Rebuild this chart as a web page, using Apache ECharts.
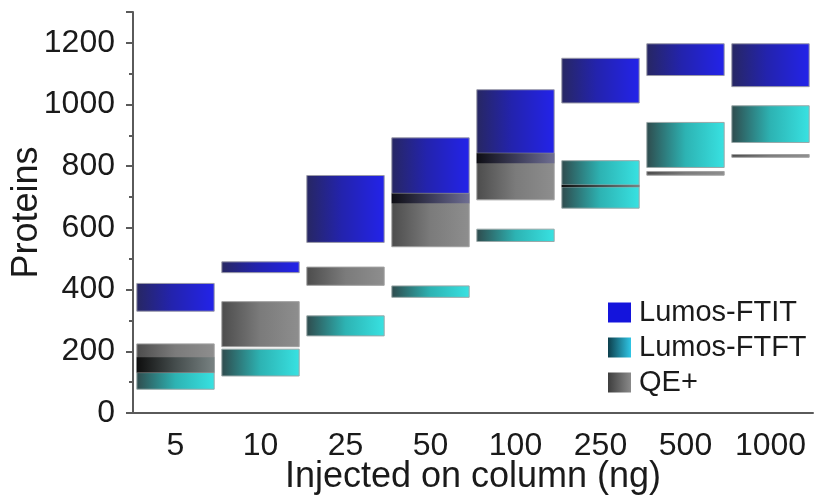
<!DOCTYPE html>
<html>
<head>
<meta charset="utf-8">
<script src="https://cdn.jsdelivr.net/npm/echarts@6/dist/echarts.min.js"></script>
<style>html,body{margin:0;padding:0;background:#fff}#c{width:822px;height:495px}</style>
</head>
<body>
<div id="c"></div>
<script>
// Categories (ng injected on column)
const categories = ['5', '10', '25', '50', '100', '250', '500', '1000'];
// Protein ranges [low, high] per category
const ftitLow  = [330, 455, 553, 680, 810, 1005, 1094, 1058];
const ftitHigh = [420, 490, 770, 892, 1048, 1150, 1197, 1197];
const ftftLow  = [77, 120, 250, 375, 556, 664, 796, 877];
const ftftHigh = [181, 207, 315, 412, 596, 818, 942, 996];
const qeLow    = [131, 215, 414, 539, 691, 733, 771, 829];
const qeHigh   = [224, 361, 473, 712, 842, 739, 783, 838];
const yTicks = [0, 200, 400, 600, 800, 1000, 1200];

const G = echarts.graphic.LinearGradient;
const fills = {
  'Lumos-FTIT': () => new G(0, 0, 1, 0, [{offset: 0, color: '#272762'}, {offset: 0.45, color: '#2323ad'}, {offset: 1, color: '#2323ea'}]),
  'Lumos-FTFT': () => new G(0, 0, 1, 0, [{offset: 0, color: '#2f4b4d'}, {offset: 0.5, color: '#2db3b3'}, {offset: 1, color: '#38e2e2'}]),
  'QE+': () => new G(0, 0, 1, 0, [{offset: 0, color: '#4c4c4c'}, {offset: 0.5, color: '#7b7b7b'}, {offset: 1, color: '#8e8e8e'}]),
  'ov-tq': () => new G(0, 0, 1, 0, [{offset: 0, color: '#0e0e0e'}, {offset: 0.5, color: '#454d4d'}, {offset: 1, color: '#788282'}]),
  'ov-bq': () => new G(0, 0, 1, 0, [{offset: 0, color: '#0e0e14'}, {offset: 0.5, color: '#3b3b58'}, {offset: 1, color: '#6e6e92'}])
};

function toData(lo, hi) { return lo.map((v, i) => [i, v, hi[i]]); }

// Overlap regions derived from the ranges above
function overlaps(aLo, aHi, bLo, bHi, kind) {
  const out = [];
  for (let i = 0; i < aLo.length; i++) {
    const lo = Math.max(aLo[i], bLo[i]), hi = Math.min(aHi[i], bHi[i]);
    if (hi > lo) out.push([i, lo, hi, kind]);
  }
  return out;
}
const ovData = overlaps(ftftLow, ftftHigh, qeLow, qeHigh, 0)
  .concat(overlaps(ftitLow, ftitHigh, qeLow, qeHigh, 1));

function makeRender(fillKey, stroke) {
  return function (params, api) {
    const x = api.value(0), lo = api.value(1), hi = api.value(2);
    const pTop = api.coord([x, hi]);
    const pBot = api.coord([x, lo]);
    const bw = api.size([1, 0])[0] * 0.91;
    let key = fillKey;
    if (fillKey === 'ov') key = api.value(3) === 0 ? 'ov-tq' : 'ov-bq';
    return {
      type: 'rect',
      shape: {x: pTop[0] - bw / 2, y: pTop[1], width: bw, height: Math.max(1, pBot[1] - pTop[1])},
      style: {fill: fills[key](), stroke: stroke, lineWidth: stroke ? 1 : 0}
    };
  };
}

const font = 'Liberation Sans, Arial, sans-serif';
const chart = echarts.init(document.getElementById('c'));
chart.setOption({
  animation: false,
  backgroundColor: '#fff',
  grid: {left: 133, right: 9, top: 12, bottom: 82, containLabel: false, outerBoundsMode: 'none'},
  xAxis: {
    type: 'category',
    data: categories,
    boundaryGap: true,
    name: 'Injected on column (ng)',
    nameLocation: 'middle',
    nameGap: 46,
    nameMoveOverlap: false,
    nameTextStyle: {fontSize: 36, color: '#1a1a1a', fontFamily: font},
    axisLine: {lineStyle: {color: '#5a5a5a', width: 2}},
    axisTick: {alignWithLabel: true, interval: 0, length: 6, lineStyle: {color: '#5a5a5a', width: 2}},
    axisLabel: {interval: 0, fontSize: 32, color: '#1a1a1a', fontFamily: font, margin: 17}
  },
  yAxis: {
    type: 'value',
    min: yTicks[0],
    max: 1300,
    interval: yTicks[1] - yTicks[0],
    name: 'Proteins',
    nameLocation: 'middle',
    nameGap: 88,
    nameMoveOverlap: false,
    nameTextStyle: {fontSize: 36, color: '#1a1a1a', fontFamily: font},
    axisLine: {show: true, lineStyle: {color: '#5a5a5a', width: 2}},
    axisTick: {show: true, length: 7, lineStyle: {color: '#5a5a5a', width: 2}},
    minorTick: {show: true, splitNumber: 2, length: 4, lineStyle: {color: '#5a5a5a', width: 2}},
    splitLine: {show: false},
    axisLabel: {fontSize: 32, color: '#1a1a1a', fontFamily: font, margin: 18, showMaxLabel: false,
      formatter: v => String(v)}
  },
  legend: {
    orient: 'vertical',
    left: 603,
    top: 293,
    itemWidth: 23,
    itemHeight: 20,
    itemGap: 6,
    icon: 'rect',
    textStyle: {fontSize: 29, color: '#1a1a1a', fontFamily: font, padding: [0, 0, 0, 3]},
    data: [
      {name: 'Lumos-FTIT', itemStyle: {color: '#1414dc'}},
      {name: 'Lumos-FTFT', itemStyle: {color: new G(0, 0, 1, 0, [{offset: 0, color: '#0d3f4c'}, {offset: 1, color: '#2fc6e6'}])}},
      {name: 'QE+', itemStyle: {color: new G(0, 0, 1, 0, [{offset: 0, color: '#3e3e3e'}, {offset: 1, color: '#8a8a8a'}])}}
    ]
  },
  series: [
    {name: 'Lumos-FTIT', type: 'custom', renderItem: makeRender('Lumos-FTIT', '#9a9aa8'), data: toData(ftitLow, ftitHigh), itemStyle: {color: '#1414dc'}, encode: {x: 0, y: [1, 2]}, z: 2},
    {name: 'Lumos-FTFT', type: 'custom', renderItem: makeRender('Lumos-FTFT', '#9aa8a8'), data: toData(ftftLow, ftftHigh), itemStyle: {color: '#2fc6e6'}, encode: {x: 0, y: [1, 2]}, z: 2},
    {name: 'QE+', type: 'custom', renderItem: makeRender('QE+', '#a0a0a0'), data: toData(qeLow, qeHigh), itemStyle: {color: '#6a6a6a'}, encode: {x: 0, y: [1, 2]}, z: 3},
    {name: 'overlap', type: 'custom', renderItem: makeRender('ov', null), data: ovData, encode: {x: 0, y: [1, 2]}, z: 4, silent: true}
  ]
});
</script>
</body>
</html>
